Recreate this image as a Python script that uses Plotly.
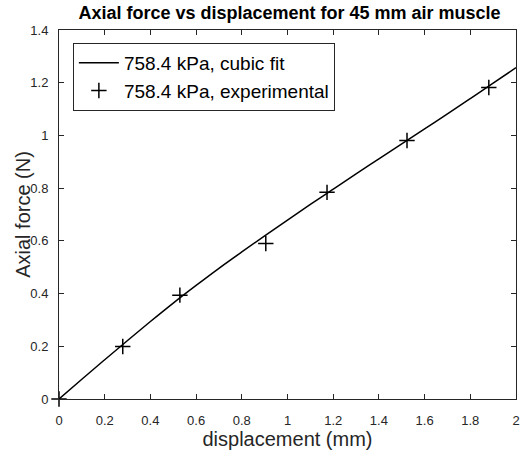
import plotly.graph_objects as go

exp_disp = [0.0, 0.279, 0.529, 0.905, 1.173, 1.523, 1.881]
exp_force = [0.0, 0.199, 0.394, 0.590, 0.784, 0.981, 1.182]

# Cubic fit curve samples
fit_disp = [0.0, 0.1, 0.2, 0.3, 0.4, 0.5, 0.6, 0.7, 0.8, 0.9, 1.0,
            1.1, 1.2, 1.3, 1.4, 1.5, 1.6, 1.7, 1.8, 1.9, 2.0]
fit_force = [0.0, 0.075, 0.149, 0.222, 0.294, 0.364, 0.431, 0.496, 0.558, 0.619, 0.679,
             0.738, 0.796, 0.854, 0.911, 0.968, 1.025, 1.082, 1.140, 1.198, 1.257]

x_ticks = [0, 0.2, 0.4, 0.6, 0.8, 1, 1.2, 1.4, 1.6, 1.8, 2]
x_tick_text = ["0", "0.2", "0.4", "0.6", "0.8", "1", "1.2", "1.4", "1.6", "1.8", "2"]
y_ticks = [0, 0.2, 0.4, 0.6, 0.8, 1, 1.2, 1.4]
y_tick_text = ["0", "0.2", "0.4", "0.6", "0.8", "1", "1.2", "1.4"]

FONT = "Liberation Sans, Arial, sans-serif"
AX = "#262626"

fig = go.Figure()
fig.add_trace(go.Scatter(
    x=fit_disp, y=fit_force, mode="lines", line_shape="spline",
    line=dict(color="black", width=1.5),
    name="758.4 kPa, cubic fit"))
fig.add_trace(go.Scatter(
    x=exp_disp, y=exp_force, mode="markers",
    marker=dict(symbol="cross-thin-open", size=11, color="black",
                line=dict(color="black", width=1.5)),
    name="758.4 kPa, experimental", cliponaxis=False))

axis_common = dict(
    showline=True, linecolor=AX, linewidth=1, mirror="allticks",
    ticks="inside", ticklen=5, tickcolor=AX, tickwidth=1,
    showgrid=False, zeroline=False,
    tickfont=dict(family=FONT, size=13, color=AX),
)

fig.update_layout(
    width=531, height=455,
    margin=dict(l=59, r=11, t=30, b=55),
    paper_bgcolor="white", plot_bgcolor="white",
    title=dict(text="<b>Axial force vs displacement for 45 mm air muscle</b>",
               font=dict(family=FONT, size=18, color="black"),
               x=(59 + 520) / 2 / 531, xanchor="center",
               y=1 - 13 / 455, yanchor="middle", yref="container"),
    xaxis=dict(range=[0, 2], tickvals=x_ticks, ticktext=x_tick_text,
               ticklabelstandoff=9,
               title=dict(text="displacement (mm)", font=dict(family=FONT, size=20, color=AX),
                          standoff=2),
               **axis_common),
    yaxis=dict(range=[0, 1.4], tickvals=y_ticks, ticktext=y_tick_text,
               ticklabelstandoff=7,
               **axis_common),
    legend=dict(x=(73 - 59) / 461, y=(400 - 43) / 370, xanchor="left", yanchor="top",
                bgcolor="white", bordercolor=AX, borderwidth=1,
                font=dict(family=FONT, size=19, color="black"),
                itemwidth=40, tracegroupgap=0),
    showlegend=True,
    annotations=[dict(text="Axial force (N)", textangle=-90, showarrow=False,
                      xref="paper", yref="paper", x=(22 - 59) / 461, y=0.5,
                      xanchor="center", yanchor="middle",
                      font=dict(family=FONT, size=20, color=AX))],
)

fig.write_html("out.html")
